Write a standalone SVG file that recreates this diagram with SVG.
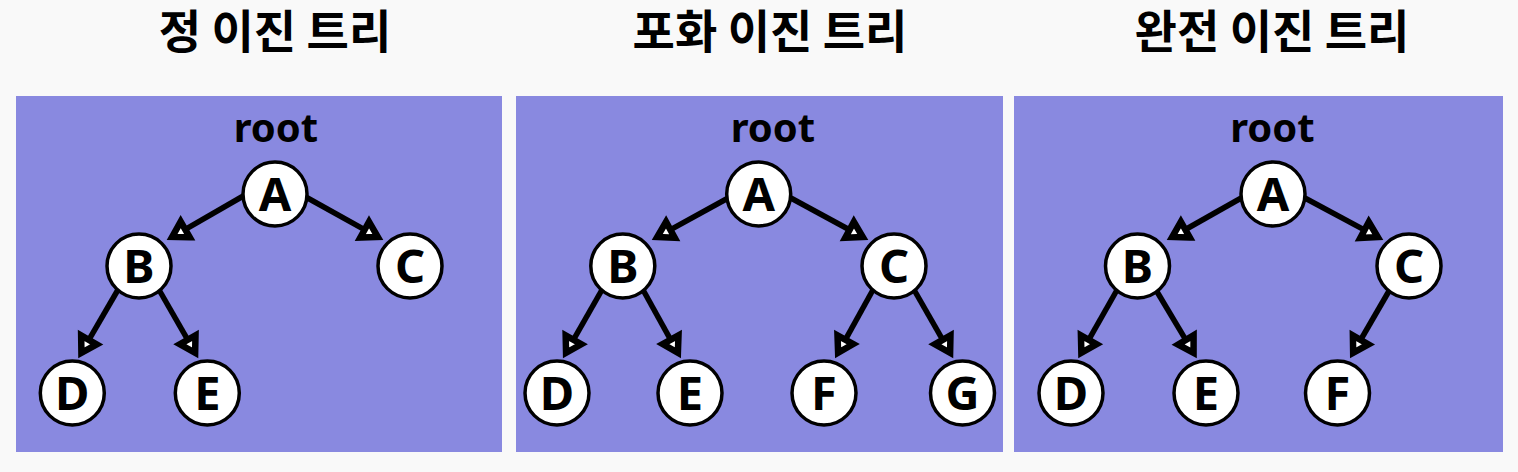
<svg xmlns="http://www.w3.org/2000/svg" width="1518" height="472" viewBox="0 0 1518 472">
<style>
.bg{fill:#f9f9f9}
.panel{fill:#8989e0}
.title{font-family:"Noto Sans CJK KR","Noto Sans",sans-serif;font-weight:700;font-size:46px;fill:#000;text-anchor:middle}
.root{font-family:"Noto Sans","Open Sans",sans-serif;font-weight:700;font-size:40px;fill:#000;text-anchor:middle}
.node circle{fill:#fff;stroke:#000;stroke-width:3.5}
.node text{font-family:"Noto Sans","Open Sans",sans-serif;font-weight:700;font-size:47px;fill:#000;text-anchor:middle}
.edge{stroke:#000;stroke-width:5.5;fill:none;marker-end:url(#arr)}
</style>
<defs>
<marker id="arr" markerUnits="userSpaceOnUse" viewBox="-6 -15 32 30" markerWidth="32" markerHeight="30" refX="1.3" refY="0" orient="auto" overflow="visible">
<path d="M0,-9 L15,0 L0,9 Z" fill="#fff" stroke="#000" stroke-width="6.5" stroke-linejoin="miter"/>
</marker>
</defs>
<rect class="bg" x="0" y="0" width="1518" height="472"/>
<rect class="panel" x="16" y="96" width="486" height="356"/>
<rect class="panel" x="516" y="96" width="487" height="356"/>
<rect class="panel" x="1014" y="96" width="489" height="356"/>
<text class="title" x="275" y="48">정 이진 트리</text>
<text class="title" x="770" y="48">포화 이진 트리</text>
<text class="title" x="1272" y="48">완전 이진 트리</text>
<text class="root" x="276" y="142">root</text>
<text class="root" x="773" y="142">root</text>
<text class="root" x="1272.5" y="142">root</text>
<g id="connectors">
<line class="edge" x1="245" y1="195" x2="184.05" y2="230.06"/>
<line class="edge" x1="304" y1="196" x2="365.82" y2="230.28"/>
<line class="edge" x1="119" y1="288" x2="88.29" y2="340.97"/>
<line class="edge" x1="158" y1="288" x2="188.33" y2="340.96"/>
<line class="edge" x1="730" y1="197" x2="669.26" y2="230.42"/>
<line class="edge" x1="789" y1="197" x2="850.72" y2="230.46"/>
<line class="edge" x1="603" y1="288" x2="572.85" y2="340.89"/>
<line class="edge" x1="642" y1="288" x2="671.25" y2="340.84"/>
<line class="edge" x1="874" y1="288" x2="844.75" y2="340.84"/>
<line class="edge" x1="913" y1="288" x2="943.3" y2="340.98"/>
<line class="edge" x1="1243" y1="197" x2="1184.16" y2="230.25"/>
<line class="edge" x1="1303" y1="197" x2="1365.67" y2="230.56"/>
<line class="edge" x1="1117" y1="290" x2="1088.13" y2="340.89"/>
<line class="edge" x1="1156" y1="290" x2="1186.53" y2="341.08"/>
<line class="edge" x1="1389" y1="291" x2="1360.03" y2="341"/>
</g>
<g id="p1-A" class="node"><circle cx="275" cy="194" r="32"/><text x="275" y="211">A</text></g>
<g id="p1-B" class="node"><circle cx="139" cy="266" r="32"/><text x="139" y="283">B</text></g>
<g id="p1-C" class="node"><circle cx="410" cy="266" r="32"/><text x="410" y="283">C</text></g>
<g id="p1-D" class="node"><circle cx="72.3" cy="393" r="32"/><text x="72.3" y="410">D</text></g>
<g id="p1-E" class="node"><circle cx="207.3" cy="393" r="32"/><text x="207.3" y="410">E</text></g>
<g id="p2-A" class="node"><circle cx="758.7" cy="194" r="32"/><text x="758.7" y="211">A</text></g>
<g id="p2-B" class="node"><circle cx="622.8" cy="266" r="32"/><text x="622.8" y="283">B</text></g>
<g id="p2-C" class="node"><circle cx="894" cy="266" r="32"/><text x="894" y="283">C</text></g>
<g id="p2-D" class="node"><circle cx="557" cy="393" r="32"/><text x="557" y="410">D</text></g>
<g id="p2-E" class="node"><circle cx="690" cy="393" r="32"/><text x="690" y="410">E</text></g>
<g id="p2-F" class="node"><circle cx="824" cy="393" r="32"/><text x="824" y="410">F</text></g>
<g id="p2-G" class="node"><circle cx="962.5" cy="393" r="32"/><text x="962.5" y="410">G</text></g>
<g id="p3-A" class="node"><circle cx="1273" cy="194" r="32"/><text x="1273" y="211">A</text></g>
<g id="p3-B" class="node"><circle cx="1137.5" cy="266" r="32"/><text x="1137.5" y="283">B</text></g>
<g id="p3-C" class="node"><circle cx="1409" cy="266" r="32"/><text x="1409" y="283">C</text></g>
<g id="p3-D" class="node"><circle cx="1071" cy="393" r="32"/><text x="1071" y="410">D</text></g>
<g id="p3-E" class="node"><circle cx="1206" cy="393" r="32"/><text x="1206" y="410">E</text></g>
<g id="p3-F" class="node"><circle cx="1337.5" cy="393" r="32"/><text x="1337.5" y="410">F</text></g>
</svg>
